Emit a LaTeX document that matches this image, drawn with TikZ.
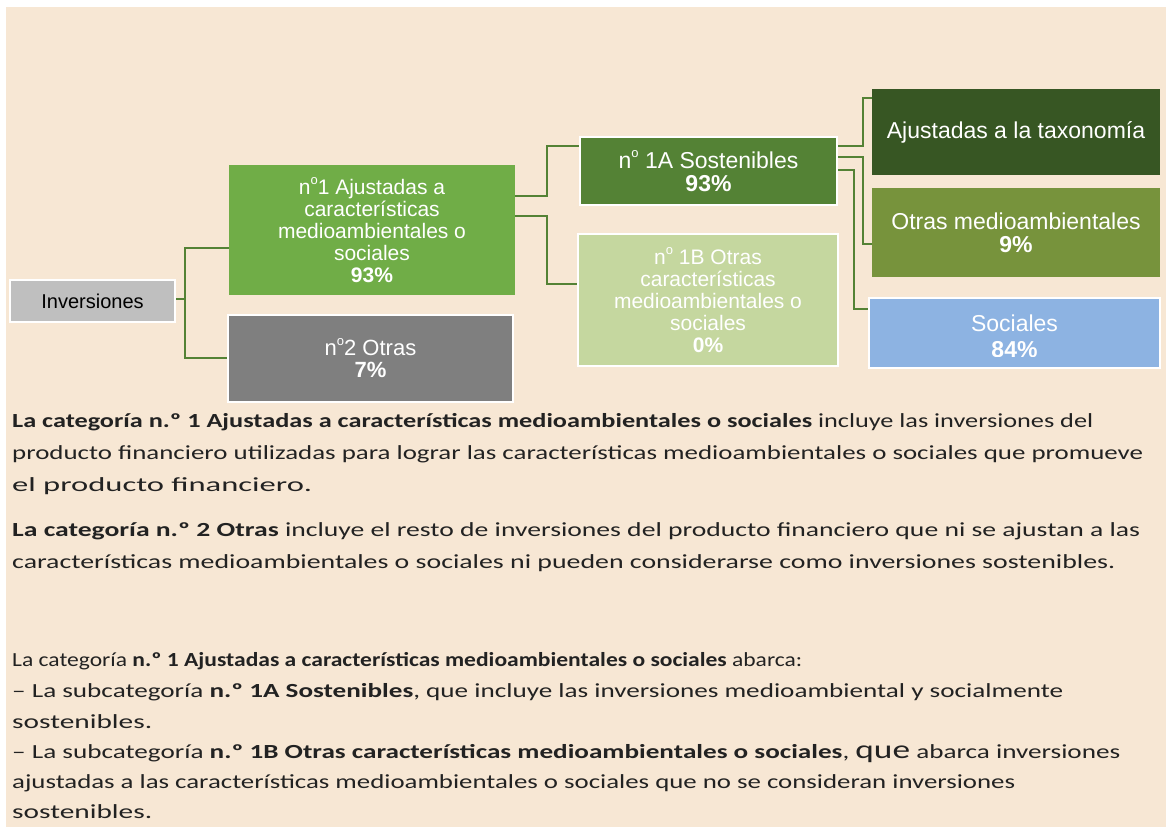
\documentclass[tikz,border=0pt]{standalone}
\usepackage{graphicx}
\usepackage{fontspec}
\setmainfont{Carlito}
\newfontfamily\arialf{Liberation Sans}
\definecolor{bgc}{HTML}{F7E7D4}
\definecolor{invc}{HTML}{BFBFBF}
\definecolor{nunoc}{HTML}{70AD47}
\definecolor{ndosc}{HTML}{7F7F7F}
\definecolor{naac}{HTML}{548235}
\definecolor{nbbc}{HTML}{C5D79F}
\definecolor{taxc}{HTML}{375623}
\definecolor{otrc}{HTML}{77933C}
\definecolor{socc}{HTML}{8DB3E2}
\definecolor{linec}{HTML}{548235}
\definecolor{txtc}{HTML}{222222}
\newlength\fitlen
\newcommand\fitline[2]{\settowidth{\fitlen}{#2}\pgfmathsetmacro\fitratio{#1/\fitlen}\scalebox{\fitratio}[1]{#2}}
\newcommand\sups[1]{\raisebox{0.45em}{\fontsize{13}{13}\selectfont #1}}
\tikzset{
  box/.style={rectangle, inner sep=0pt, align=center, text=white,
    font=\arialf\fontsize{21}{22}\selectfont},
  bigbox/.style={box, font=\arialf\fontsize{23}{23}\selectfont},
  wb/.style={draw=white, line width=2.5pt},
  conn/.style={draw=linec, line width=2.4pt},
  para/.style={anchor=base west, inner sep=0pt, text=txtc,
    font=\fontsize{20}{20}\selectfont},
}
\begin{document}
\begin{tikzpicture}[x=1pt,y=-1pt]
\useasboundingbox (0,0) rectangle (1166,827);
\fill[bgc] (6,7) rectangle (1166,827);

% boxes
\node[box, wb, fill=invc, text=black, minimum width=165pt, minimum height=42pt,
  font=\arialf\fontsize{20}{22}\selectfont] (inv) at (92.5,301) {Inversiones};
\node[box, fill=nunoc, minimum width=286pt, minimum height=130pt] (n1) at (372,230)
  {n\sups{o}1 Ajustadas a\\caracter\'isticas\\medioambientales o\\sociales\\\textbf{93\%}};
\node[box, wb, fill=ndosc, minimum width=285pt, minimum height=87pt,
  font=\arialf\fontsize{22}{22}\selectfont] (n2) at (370.5,358.5)
  {n\sups{o}2 Otras\\\textbf{7\%}};
\node[bigbox, wb, fill=naac, minimum width=257pt, minimum height=68pt] (n1a) at (708.5,171)
  {n\sups{o} 1A Sostenibles\\\textbf{93\%}};
\node[box, wb, fill=nbbc, minimum width=260pt, minimum height=132pt] (n1b) at (708,300)
  {n\sups{o} 1B Otras\\caracter\'isticas\\medioambientales o\\sociales\\\textbf{0\%}};
\node[bigbox, fill=taxc, minimum width=288pt, minimum height=86pt] (tax) at (1016,132)
  {Ajustadas a la taxonom\'ia};
\node[bigbox, fill=otrc, minimum width=288pt, minimum height=89pt] (otr) at (1016,232.5)
  {Otras medioambientales\\\textbf{9\%}};
\node[bigbox, wb, fill=socc, minimum width=291pt, minimum height=70pt] (soc) at (1014.5,333) {};
\begin{scope}
  \clip (soc.north west) rectangle (soc.east |- 0,356);
  \node[bigbox, anchor=base] (socA) at (1014.5,331) {Sociales};
  \node[bigbox, anchor=base] (socB) at (1014.5,357.5) {\textbf{84\%}};
\end{scope}

% connectors
\coordinate (j1) at (185,299);
\draw[conn] (inv.east |- j1) -- (j1);
\draw[conn] (j1) |- (n1.west |- 0,248);
\draw[conn] (j1) |- (n2.west |- 0,358);
\draw[conn] (n1.east |- 0,196) -| (547,146) -- (n1a.west |- 0,146);
\draw[conn] (n1.east |- 0,216) -| (547,284) -- (n1b.west |- 0,284);
\draw[conn] (n1a.east |- 0,146) -| (863,98) -- (tax.west |- 0,98);
\draw[conn] (n1a.east |- 0,157) -| (863,244) -- (otr.west |- 0,244);
\draw[conn] (n1a.east |- 0,170) -| (854,309) -- (soc.west |- 0,309);

% paragraphs
\node[para] (p1) at (12,427) {\fitline{1081}{\textbf{La categoría n.º 1 Ajustadas a características medioambientales o sociales} incluye las inversiones del}};
\node[para] (p2) at (12,459) {\fitline{1131}{producto financiero utilizadas para lograr las características medioambientales o sociales que promueve}};
\node[para] (p3) at (12,491) {\fitline{300}{el producto financiero.}};
\node[para] (p4) at (12,536) {\fitline{1128}{\textbf{La categoría n.º 2 Otras} incluye el resto de inversiones del producto financiero que ni se ajustan a las}};
\node[para] (p5) at (12,568) {\fitline{1103}{características medioambientales o sociales ni pueden considerarse como inversiones sostenibles.}};
\node[para] (p6) at (12,666) {\fitline{790}{La categoría \textbf{n.º 1 Ajustadas a características medioambientales o sociales} abarca:}};
\node[para] (p7) at (12,697) {\fitline{1051}{– La subcategoría \textbf{n.º 1A Sostenibles}, que incluye las inversiones medioambiental y socialmente}};
\node[para] (p8) at (12,728) {\fitline{140}{sostenibles.}};
\node[para] (p9) at (12,758) {\fitline{1108}{– La subcategoría \textbf{n.º 1B Otras características medioambientales o sociales}, {\fontsize{26}{26}\selectfont que} abarca inversiones}};
\node[para] (p10) at (12,788) {\fitline{1003}{ajustadas a las características medioambientales o sociales que no se consideran inversiones}};
\node[para] (p11) at (12,818) {\fitline{140}{sostenibles.}};
\end{tikzpicture}
\end{document}
